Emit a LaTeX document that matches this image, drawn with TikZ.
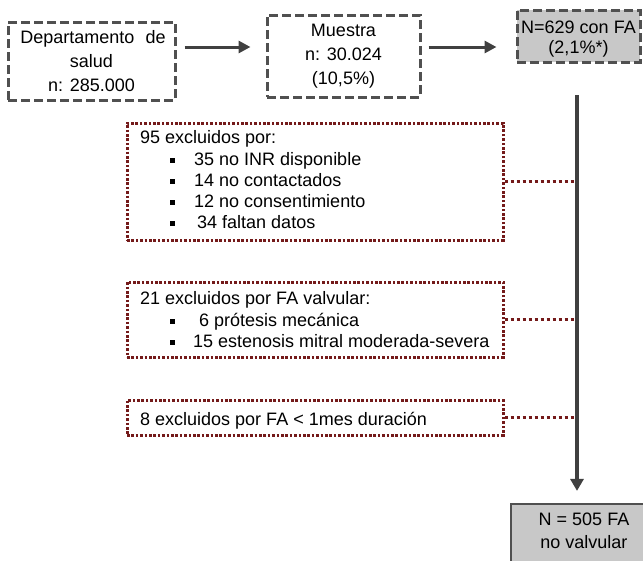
\documentclass[tikz,border=0pt]{standalone}
\usepackage{fontspec}
\setmainfont{Liberation Sans}
\usetikzlibrary{arrows.meta}
\definecolor{dk}{HTML}{404040}
\definecolor{bd}{HTML}{505050}
\definecolor{mr}{HTML}{741A1A}
\definecolor{gf}{HTML}{C8C8C8}
\begin{document}
\begin{tikzpicture}[x=1pt,y=-1pt,
  txt/.style={font=\fontsize{18}{22}\selectfont, inner sep=0pt, anchor=base},
  ltxt/.style={txt, anchor=base west},
  dbox/.style={draw=bd, line width=3pt, dash pattern=on 9pt off 4pt, inner sep=0pt},
  gbox/.style={dbox, fill=gf},
  sbox/.style={draw=bd, line width=2.2pt, fill=gf, inner sep=0pt},
  xbox/.style={draw=mr, line width=3pt, dash pattern=on 2.6pt off 1.8pt, inner sep=0pt},
  xcon/.style={draw=mr, line width=3pt, dash pattern=on 3pt off 3pt},
  arr/.style={draw=dk, line width=3pt, -{Triangle[length=12pt,width=12pt]}},
  varr/.style={draw=dk, line width=4pt, -{Triangle[length=12pt,width=13pt]}},
  bul/.style={fill=black, inner sep=0pt, minimum size=5pt},
]
\useasboundingbox (0,0) rectangle (643,560);
\clip (0,0) rectangle (643,560);

% top row boxes
\node[dbox, minimum width=167pt, minimum height=78pt] (b1) at (91.5,61) {};
\node[dbox, minimum width=153pt, minimum height=82pt] (b2) at (343.5,56) {};
\node[gbox, minimum width=123pt, minimum height=52pt] (b3) at (578.5,36) {};
\node[sbox, minimum width=146pt, minimum height=60pt] (fb) at (584,534) {};

\node[txt] (t1a) at (93,43) {Departamento\hspace{11pt}de};
\node[txt] (t1b) at (91.5,67) {salud};
\node[txt] (t1c) at (91.5,91) {n: 285.000};
\node[txt] (t2a) at (343.5,36) {Muestra};
\node[txt] (t2b) at (343.5,60) {n: 30.024};
\node[txt] (t2c) at (343.5,84) {(10,5\%)};
\node[txt] (t3a) at (578.5,33) {N=629 con FA};
\node[txt] (t3b) at (578.5,53) {(2,1\%*)};
\node[txt] (t4a) at (584,525) {N = 505 FA};
\node[txt] (t4b) at (584,548) {no valvular};

% horizontal arrows
\coordinate (ay) at (0,47);
\draw[arr] ([xshift=8pt]b1.east |- ay) -- ([xshift=-15pt]b2.west |- ay);
\draw[arr] ([xshift=7pt]b2.east |- ay) -- ([xshift=-19pt]b3.west |- ay);

% exclusion boxes
\node[xbox, minimum width=376pt, minimum height=117pt] (dA) at (315,181.5) {};
\node[xbox, minimum width=376pt, minimum height=75pt] (dB) at (315,319.5) {};
\node[xbox, minimum width=376pt, minimum height=35pt] (dC) at (315,417.5) {};

\node[ltxt] (a0) at (140,143) {95 excluidos por:};
\node[bul] (ba1) at (172.5,160) {};
\node[ltxt] (a1) at (194,165) {35 no INR disponible};
\node[bul] (ba2) at (172.5,181) {};
\node[ltxt] (a2) at (194,186) {14 no contactados};
\node[bul] (ba3) at (172.5,202) {};
\node[ltxt] (a3) at (194,207) {12 no consentimiento};
\node[bul] (ba4) at (172.5,223) {};
\node[ltxt] (a4) at (197,228) {34 faltan datos};

\node[ltxt] (bt0) at (140,304) {21 excluidos por FA valvular:};
\node[bul] (bb1) at (172.5,321) {};
\node[ltxt] (bt1) at (199,326) {6 prótesis mecánica};
\node[bul] (bb2) at (172.5,342) {};
\node[ltxt] (bt2) at (193,347) {15 estenosis mitral moderada-severa};

\node[ltxt] (c0) at (140,425) {8 excluidos por FA < 1mes duración};

% vertical flow
\coordinate (vt) at (577,95);
\draw[xcon] (dA.east) -- (dA.east -| vt);
\draw[xcon] (dB.east) -- (dB.east -| vt);
\draw[xcon] (dC.east) -- (dC.east -| vt);
\draw[varr, shorten >=12pt] (vt) -- (vt |- fb.north);
\end{tikzpicture}
\end{document}
